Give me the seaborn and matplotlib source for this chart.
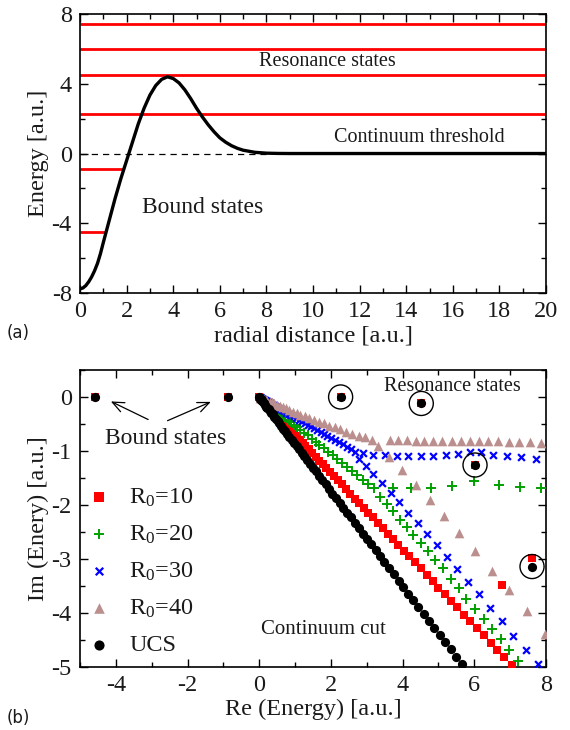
import numpy as np
import pandas as pd
import matplotlib
matplotlib.use('Agg')
import matplotlib.pyplot as plt
import seaborn as sns

# ---------- panel (a): potential and levels ----------
pot_r = [0, 0.125, 0.25, 0.375, 0.5, 0.625, 0.75, 0.875, 1.0, 1.25, 1.5, 1.75, 2.0,
         2.25, 2.5, 2.75, 3.0, 3.25, 3.5, 3.75, 4.0, 4.25, 4.5, 4.75, 5.0, 5.25, 5.5,
         5.75, 6.0, 6.25, 6.5, 6.75, 7.0, 7.5, 8.0, 8.5, 9.0, 20.0]
pot_v = [-7.76, -7.71, -7.57, -7.35, -7.07, -6.72, -6.3, -5.75, -5.1, -3.85, -2.6,
         -1.45, -0.4, 0.65, 1.7, 2.6, 3.35, 3.9, 4.25, 4.4, 4.3, 4.05, 3.65, 3.15, 2.6,
         2.1, 1.65, 1.25, 0.9, 0.65, 0.45, 0.3, 0.19, 0.07, 0.02, 0.005, 0.0, 0.0]
resonance_levels = [7.43, 6.0, 4.51, 2.28]
bound_levels = [-0.89, -4.5]
bound_ends = [1.87, 1.12]
threshold_r = [0, 8]

# ---------- panel (b): complex energies ----------
bound_pts = [(-4.57, 0.0), (-0.88, 0.0)]
res_pts = [(2.27, 0.0), (4.52, -0.12), (6.02, -1.26), (7.61, -3.14)]

ucs_cut = [(0.00, 0.00), (0.01, -0.01), (0.02, -0.02), (0.03, -0.03), (0.04, -0.04),
           (0.06, -0.05), (0.07, -0.06), (0.09, -0.08), (0.12, -0.11), (0.14, -0.12),
           (0.17, -0.15), (0.20, -0.18), (0.23, -0.20), (0.26, -0.23), (0.30, -0.26),
           (0.33, -0.29), (0.37, -0.32), (0.42, -0.37), (0.46, -0.40), (0.51, -0.45),
           (0.56, -0.49), (0.61, -0.53), (0.67, -0.59), (0.72, -0.63), (0.78, -0.68),
           (0.84, -0.74), (0.91, -0.80), (0.97, -0.85), (1.04, -0.91), (1.11, -0.97),
           (1.18, -1.03), (1.26, -1.10), (1.34, -1.17), (1.42, -1.24), (1.50, -1.31),
           (1.58, -1.38), (1.67, -1.46), (1.76, -1.54), (1.85, -1.62), (1.94, -1.70),
           (2.04, -1.79), (2.14, -1.87), (2.24, -1.96), (2.34, -2.05), (2.44, -2.14),
           (2.55, -2.23), (2.66, -2.33), (2.77, -2.42), (2.89, -2.53), (3.00, -2.63),
           (3.12, -2.73), (3.25, -2.84), (3.37, -2.95), (3.49, -3.05), (3.62, -3.17),
           (3.75, -3.28), (3.89, -3.40), (4.02, -3.52), (4.16, -3.64), (4.30, -3.76),
           (4.44, -3.89), (4.59, -4.02), (4.73, -4.14), (4.88, -4.27), (5.03, -4.40),
           (5.19, -4.54), (5.34, -4.67), (5.50, -4.81), (5.66, -4.95)]

r10_pts = [(0.00, 0.00), (0.01, -0.01), (0.02, -0.01), (0.04, -0.03), (0.05, -0.04),
           (0.07, -0.05), (0.09, -0.06), (0.11, -0.08), (0.15, -0.11), (0.17, -0.12),
           (0.21, -0.15), (0.25, -0.18), (0.29, -0.20), (0.32, -0.23), (0.37, -0.26),
           (0.41, -0.29), (0.46, -0.32), (0.52, -0.37), (0.57, -0.40), (0.63, -0.44),
           (0.70, -0.49), (0.76, -0.54), (0.83, -0.59), (0.90, -0.63), (0.97, -0.68),
           (1.04, -0.73), (1.13, -0.80), (1.21, -0.85), (1.29, -0.91), (1.38, -0.97),
           (1.47, -1.04), (1.57, -1.11), (1.67, -1.18), (1.77, -1.25), (1.87, -1.32),
           (1.97, -1.39), (2.08, -1.47), (2.19, -1.54), (2.30, -1.62), (2.41, -1.70),
           (2.54, -1.79), (2.66, -1.88), (2.79, -1.97), (2.91, -2.05), (3.04, -2.14),
           (3.17, -2.23), (3.31, -2.33), (3.45, -2.43), (3.60, -2.54), (3.73, -2.63),
           (3.88, -2.74), (4.04, -2.85), (4.19, -2.95), (4.34, -3.06), (4.50, -3.17),
           (4.67, -3.29), (4.84, -3.41), (5.00, -3.53), (5.18, -3.65), (5.35, -3.77),
           (5.52, -3.89), (5.71, -4.03), (5.88, -4.15), (6.07, -4.28), (6.26, -4.41),
           (6.46, -4.55), (6.64, -4.68), (6.84, -4.82), (7.04, -4.96),
           (6.76, -3.49), (7.60, -2.99)]
r10_hidden = [(-4.57, 0.0), (-0.88, 0.0), (2.27, 0.0), (4.52, -0.12), (6.02, -1.26)]

r20_pts = [(0.01, -0.01), (0.02, -0.01), (0.03, -0.02), (0.05, -0.03), (0.07, -0.04),
           (0.10, -0.05), (0.13, -0.07), (0.16, -0.08), (0.20, -0.11), (0.24, -0.13),
           (0.29, -0.15), (0.34, -0.18), (0.39, -0.21), (0.45, -0.24), (0.51, -0.27),
           (0.58, -0.31), (0.65, -0.34), (0.72, -0.38), (0.80, -0.42), (0.88, -0.46),
           (0.97, -0.51), (1.06, -0.56), (1.15, -0.61), (1.25, -0.66), (1.35, -0.71),
           (1.46, -0.77), (1.57, -0.83), (1.68, -0.89), (1.80, -0.95), (1.92, -1.01),
           (2.05, -1.08), (2.18, -1.15), (2.31, -1.22), (2.45, -1.29), (2.59, -1.37),
           (2.74, -1.45), (2.89, -1.53), (3.04, -1.61), (3.20, -1.69),
           # flat branch
           (3.72, -1.69), (4.22, -1.69), (4.78, -1.68), (5.37, -1.65), (6.00, -1.55),
           (6.70, -1.63), (7.27, -1.66), (7.86, -1.68),
           # rotated branch
           (3.37, -1.86), (3.56, -1.99), (3.73, -2.12), (3.92, -2.28), (4.11, -2.41),
           (4.30, -2.56), (4.50, -2.71), (4.71, -2.86), (4.91, -3.02), (5.13, -3.17),
           (5.35, -3.37), (5.56, -3.54), (5.78, -3.75), (6.02, -3.92), (6.26, -4.11),
           (6.49, -4.29), (6.74, -4.49), (6.97, -4.68), (7.23, -4.89)]

r30_pts = [(0.01, -0.00), (0.02, -0.01), (0.03, -0.01), (0.05, -0.02), (0.06, -0.02),
           (0.08, -0.03), (0.11, -0.04), (0.13, -0.05), (0.16, -0.06), (0.19, -0.07),
           (0.22, -0.08), (0.26, -0.10), (0.30, -0.11), (0.34, -0.13), (0.38, -0.14),
           (0.43, -0.16), (0.48, -0.18), (0.53, -0.20), (0.58, -0.22), (0.64, -0.24),
           (0.70, -0.26), (0.76, -0.29), (0.82, -0.31), (0.89, -0.34), (0.96, -0.36),
           (1.03, -0.39), (1.11, -0.42), (1.19, -0.45), (1.27, -0.48), (1.35, -0.51),
           (1.44, -0.54), (1.52, -0.57), (1.62, -0.61), (1.71, -0.65), (1.80, -0.68),
           (1.90, -0.72), (2.01, -0.76), (2.11, -0.80), (2.22, -0.84), (2.33, -0.88),
           (2.44, -0.92), (2.55, -0.96), (2.67, -1.01),
           # flat branch
           (2.90, -1.04), (3.18, -1.07), (3.51, -1.07), (3.83, -1.09), (4.16, -1.09),
           (4.50, -1.09), (4.86, -1.09), (5.20, -1.07), (5.55, -1.06), (5.88, -1.01),
           (6.19, -1.01), (6.53, -1.07), (6.92, -1.10), (7.30, -1.12), (7.71, -1.14),
           # rotated branch
           (2.78, -1.14), (2.97, -1.28), (3.18, -1.43), (3.42, -1.59), (3.67, -1.77),
           (3.90, -1.95), (4.16, -2.14), (4.42, -2.33), (4.69, -2.54), (4.95, -2.74),
           (5.23, -2.96), (5.53, -3.19), (5.82, -3.42), (6.13, -3.65), (6.44, -3.90),
           (6.76, -4.15), (7.09, -4.42), (7.43, -4.69), (7.77, -4.94)]

r40_pts = [(0.01, -0.00), (0.03, -0.01), (0.05, -0.01), (0.07, -0.02), (0.10, -0.03),
           (0.14, -0.04), (0.18, -0.05), (0.23, -0.07), (0.29, -0.09), (0.35, -0.10),
           (0.42, -0.12), (0.49, -0.14), (0.57, -0.17), (0.65, -0.19), (0.74, -0.21),
           (0.83, -0.24), (0.93, -0.27), (1.04, -0.30), (1.15, -0.33), (1.27, -0.36),
           (1.40, -0.39), (1.53, -0.42), (1.66, -0.46), (1.80, -0.49), (1.95, -0.53),
           (2.10, -0.56), (2.26, -0.60), (2.42, -0.64), (2.59, -0.68), (2.77, -0.72),
           (2.95, -0.75), (3.14, -0.79),
           # flat branch
           (3.65, -0.80), (3.88, -0.80), (4.11, -0.80), (4.37, -0.81), (4.61, -0.81),
           (4.86, -0.81), (5.11, -0.81), (5.37, -0.81), (5.63, -0.81), (5.88, -0.81),
           (6.13, -0.82), (6.39, -0.82), (6.67, -0.82), (6.97, -0.83), (7.26, -0.83),
           (7.55, -0.84), (7.85, -0.85),
           # rotated branch
           (3.30, -0.90), (3.63, -1.12), (3.97, -1.35), (4.37, -1.63), (4.75, -1.91),
           (5.16, -2.20), (5.57, -2.52), (6.02, -2.86), (6.49, -3.22), (6.97, -3.57),
           (7.46, -3.96), (7.97, -4.38)]

labels = [r'R$_0$=10', r'R$_0$=20', r'R$_0$=30', r'R$_0$=40', 'UCS']


def to_df(pts):
    return pd.DataFrame(pts, columns=['re', 'im'])


sns.set_theme(style='ticks')
plt.rcParams['font.family'] = ['Liberation Serif', 'DejaVu Serif']
plt.rcParams['mathtext.fontset'] = 'custom'
plt.rcParams['mathtext.rm'] = 'Liberation Serif'
plt.rcParams['mathtext.it'] = 'Liberation Serif:italic'
plt.rcParams['mathtext.default'] = 'regular'
plt.rcParams['axes.unicode_minus'] = False

txt = '#1a1a1a'
fig = plt.figure(figsize=(5.7, 7.3), dpi=100)
ax1 = fig.add_axes([0.1404, 0.5986, 0.8175, 0.3822])
ax2 = fig.add_axes([0.1404, 0.0863, 0.8175, 0.4069])

for ax in (ax1, ax2):
    for s in ax.spines.values():
        s.set_color('black')
        s.set_linewidth(1.2)
    ax.tick_params(which='both', direction='in', top=True, right=True,
                   color='black', width=1.0, labelcolor=txt)
    ax.tick_params(which='major', length=6, labelsize=17.5, pad=6)
    ax.tick_params(which='minor', length=3.5)

# ---- (a) ----
ax1.hlines(resonance_levels, 0, 20, color='red', lw=2.0, zorder=2)
ax1.hlines(bound_levels, 0, bound_ends, color='red', lw=2.0, zorder=2)
ax1.plot(threshold_r, [0, 0], color='black', lw=0.9, ls=(0, (5, 4)), zorder=2)
sns.lineplot(x=pot_r, y=pot_v, color='black', lw=2.4, sort=False, ax=ax1, zorder=3)
ax1.set_xlim(0, 20)
ax1.set_ylim(-8, 8)
ax1.set_xticks(range(0, 21, 2))
ax1.set_xticks(range(0, 21, 1), minor=True)
ax1.set_yticks([-8, -4, 0, 4, 8])
ax1.set_yticks(range(-8, 9, 2), minor=True)
ax1.set_xlabel('radial distance [a.u.]', fontsize=17.5, color=txt, labelpad=2)
ax1.set_ylabel('Energy [a.u.]', fontsize=17.5, color=txt, labelpad=2)
ax1.text(10.6, 5.25, 'Resonance states', fontsize=14.5, ha='center', va='center', color=txt)
ax1.text(14.55, 0.89, 'Continuum threshold', fontsize=14.5, ha='center', va='center', color=txt)
ax1.text(5.28, -3.1, 'Bound states', fontsize=17, ha='center', va='center', color=txt)

# ---- (b) ----
sns.scatterplot(data=to_df(r10_hidden), x='re', y='im', marker='s', s=36, color='red',
                linewidth=0, ax=ax2, zorder=3)
sns.scatterplot(data=to_df(r10_pts), x='re', y='im', marker='s', s=36, color='red',
                linewidth=0, ax=ax2, label=labels[0], zorder=3)
sns.scatterplot(data=to_df(r20_pts), x='re', y='im', marker='+', s=50, color='#00a000',
                linewidth=1.4, ax=ax2, label=labels[1], zorder=3)
sns.scatterplot(data=to_df(r30_pts), x='re', y='im', marker='x', s=24, color='#0000ff',
                linewidth=1.6, ax=ax2, label=labels[2], zorder=3)
sns.scatterplot(data=to_df(r40_pts), x='re', y='im', marker='^', s=48, color='#bc8f8f',
                linewidth=0, ax=ax2, label=labels[3], zorder=3)
sns.scatterplot(data=to_df(ucs_cut + bound_pts + res_pts), x='re', y='im', marker='o',
                s=44, color='black', linewidth=0, ax=ax2, label=labels[4], zorder=4)
res_df = to_df(res_pts)
ax2.scatter(res_df['re'], res_df['im'], s=300, facecolors='none', edgecolors='black',
            linewidths=1.0, zorder=5)

ax2.set_xlim(-5, 8)
ax2.set_ylim(-5, 0.5)
ax2.set_xticks(range(-4, 9, 2))
ax2.set_xticks(range(-5, 9, 1), minor=True)
ax2.set_yticks(range(-5, 1, 1))
ax2.set_yticks(np.arange(-5, 0.6, 0.5), minor=True)
ax2.set_xlabel('Re (Energy) [a.u.]', fontsize=17.5, color=txt, labelpad=2)
ax2.set_ylabel('Im (Enery) [a.u.]', fontsize=17.5, color=txt, labelpad=2)

ax2.text(-2.6, -0.76, 'Bound states', fontsize=17, ha='center', va='center', color=txt)
arrow = dict(arrowstyle='->,head_length=0.7,head_width=0.3', color='black', lw=0.9)
ax2.annotate('', xy=(-4.21, -0.06), xytext=(-3.03, -0.44), arrowprops=arrow)
ax2.annotate('', xy=(-1.28, -0.07), xytext=(-2.63, -0.46), arrowprops=arrow)
ax2.text(5.38, 0.19, 'Resonance states', fontsize=14.5, ha='center', va='center', color=txt)
ax2.text(1.78, -4.31, 'Continuum cut', fontsize=15, ha='center', va='center', color=txt)

handles, labs = ax2.get_legend_handles_labels()
leg = ax2.legend(handles, labs, loc='upper left', bbox_to_anchor=(-0.017, 0.64),
                 frameon=False, fontsize=17.5, handletextpad=0.55, labelspacing=0.6,
                 handlelength=1.4, borderaxespad=0, markerscale=1.1)
for t in leg.get_texts():
    t.set_color(txt)

fig.text(0.032, 0.544, '(a)', fontsize=12, family='DejaVu Sans', ha='center', va='center', color=txt)
fig.text(0.032, 0.016, '(b)', fontsize=12, family='DejaVu Sans', ha='center', va='center', color=txt)

fig.savefig('out.png', dpi=100)
